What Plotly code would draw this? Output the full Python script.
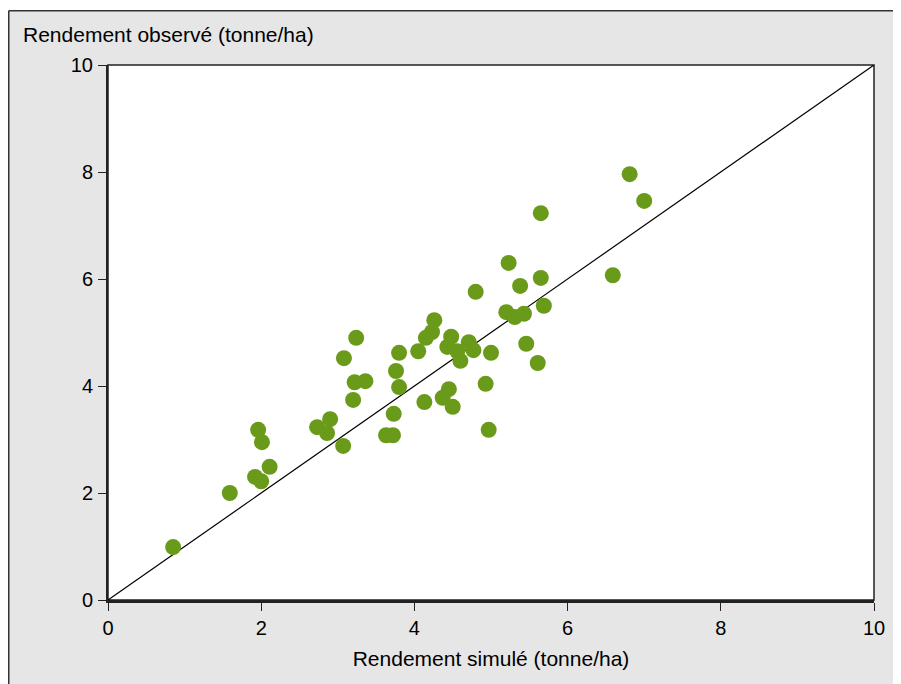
import plotly.graph_objects as go

# Simulated (x) and observed (y) yields, tonne/ha
simule = [0.85, 1.59, 1.96, 2.01, 1.92, 2.00, 2.11, 2.73, 2.86, 2.90, 3.07, 3.08, 3.20, 3.22,
          3.24, 3.36, 3.63, 3.72, 3.73, 3.76, 3.80, 3.80, 4.05, 4.13, 4.15, 4.23, 4.26, 4.37,
          4.43, 4.45, 4.48, 4.50, 4.56, 4.60, 4.71, 4.77, 4.80, 4.93, 4.97, 5.00, 5.20, 5.23,
          5.31, 5.38, 5.43, 5.46, 5.61, 5.65, 5.65, 5.69, 6.59, 6.81, 7.00]
observe = [0.99, 2.00, 3.18, 2.95, 2.30, 2.22, 2.49, 3.23, 3.12, 3.38, 2.88, 4.52, 3.74, 4.07,
           4.90, 4.09, 3.08, 3.08, 3.48, 4.28, 4.62, 3.98, 4.65, 3.70, 4.90, 5.01, 5.23, 3.78,
           4.73, 3.94, 4.92, 3.61, 4.65, 4.47, 4.82, 4.67, 5.76, 4.04, 3.18, 4.62, 5.38, 6.30,
           5.29, 5.87, 5.35, 4.79, 4.43, 7.23, 6.02, 5.50, 6.07, 7.96, 7.46]
diag = [0, 10]
ticks = [0, 2, 4, 6, 8, 10]

FONT = "Liberation Sans, Arial, Helvetica, sans-serif"
W, H = 901, 684
L, T = 100, 57
pw, ph = 766, 535
R, B = W - L - pw, H - T - ph

def px(xp):
    return (xp - L) / pw

def py(yp):
    return (T + ph - yp) / ph

fig = go.Figure()
fig.add_trace(go.Scatter(x=diag, y=diag, mode="lines",
                         line=dict(color="black", width=1.2), hoverinfo="skip"))
fig.add_trace(go.Scatter(x=simule, y=observe, mode="markers",
                         marker=dict(size=16, color="#6a9a1a", line=dict(width=0))))

border = dict(color="#333333", width=1.5)
shapes = [
    dict(type="rect", xref="paper", yref="paper", layer="below",
         x0=px(-5), x1=px(W + 5), y0=py(2), y1=py(-5),
         fillcolor="white", line=dict(width=0)),
    dict(type="line", xref="paper", yref="paper", layer="below",
         x0=px(0.75), x1=px(0.75), y0=py(H + 20), y1=py(2.75), line=border),
    dict(type="line", xref="paper", yref="paper", layer="below",
         x0=px(0.75), x1=px(W + 20), y0=py(2.75), y1=py(2.75), line=border),
    dict(type="rect", xref="paper", yref="paper", layer="below",
         x0=0, x1=1, y0=0, y1=1,
         fillcolor="white", line=dict(color="#222222", width=1.5)),
]

fig.update_layout(
    width=W, height=H,
    margin=dict(l=L, r=R, t=T, b=B, autoexpand=False),
    paper_bgcolor="#e6e6e6", plot_bgcolor="white",
    showlegend=False,
    font=dict(family=FONT, size=20, color="black"),
    shapes=shapes,
    annotations=[dict(text="Rendement observé (tonne/ha)", xref="paper", yref="paper",
                      x=px(13), y=py(27), xanchor="left", yanchor="middle",
                      showarrow=False, font=dict(family=FONT, size=21, color="black"))],
)
fig.update_xaxes(range=[0, 10], tickvals=ticks, ticktext=[str(t) for t in ticks],
                 showgrid=False, zeroline=False, showline=True, linecolor="#222222",
                 linewidth=2.5, ticks="outside", ticklen=8, tickwidth=1.2, tickcolor="#222222",
                 tickfont=dict(size=20), automargin=False,
                 title=dict(text="Rendement simulé (tonne/ha)", font=dict(size=21), standoff=14))
fig.update_yaxes(range=[0, 10], tickvals=ticks, ticktext=[str(t) for t in ticks],
                 showgrid=False, zeroline=False, showline=True, linecolor="#222222",
                 linewidth=2, ticks="outside", ticklen=8, tickwidth=1.2, tickcolor="#222222",
                 tickfont=dict(size=20), automargin=False, ticklabelstandoff=1)

fig.write_html("out.html")
